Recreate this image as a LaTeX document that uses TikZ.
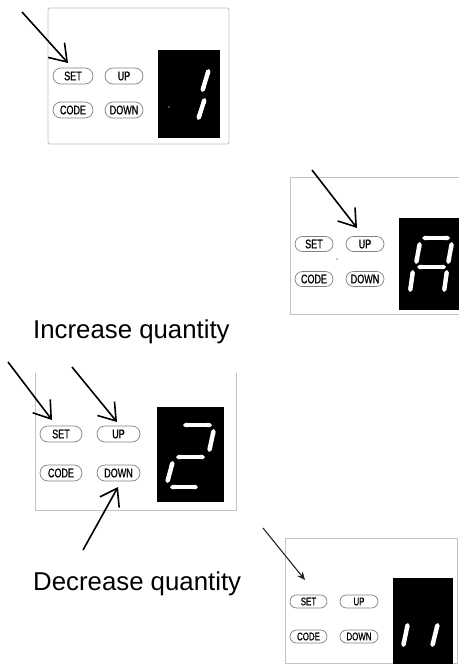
\documentclass[tikz,border=0pt]{standalone}
\usepackage{fontspec}
\setmainfont{Liberation Sans}
\newfontfamily\btnfont[FakeStretch=0.72,FakeBold=0.6]{Liberation Sans}
\usetikzlibrary{arrows.meta,shapes.misc}
\tikzset{
  panel/.style={draw=black!24, line width=0.8pt},
  btn/.style 2 args={shape=rounded rectangle, draw=black!50, line width=0.7pt, inner sep=0pt,
    minimum width=#1, minimum height=#2, font=\btnfont\fontsize{12.5}{12.5}\selectfont},
  disp/.style 2 args={fill=black, draw=none, inner sep=0pt, minimum width=#1, minimum height=#2},
  seg/.style={draw=white, line width=4.4pt, {Triangle Cap[]}-{Triangle Cap[]}},
  bigarrow/.style={draw=black, line width=1.6pt, -{Straight Barb[length=16pt, width=22pt, line width=1.6pt]}},
  smallarrow/.style={draw=black!85, line width=1.1pt, -{Stealth[length=8pt, width=7pt]}},
  caption/.style={anchor=base west, inner sep=0pt, font=\fontsize{25.8}{30}\selectfont},
  ledot/.style={fill=black!45, draw=none}
}
\begin{document}
\begin{tikzpicture}[x=1pt,y=-1pt]
\useasboundingbox (0,0) rectangle (459,664);

% ---------- Panel 1 ----------
\draw[panel, rounded corners=2pt] (48,8) rectangle (229,144);
\node[btn={40pt}{16pt}] (set1) at (73,76) {SET};
\node[btn={38pt}{16pt}] (up1) at (124,76) {UP};
\node[btn={40pt}{16pt}] (code1) at (73,110) {CODE};
\node[btn={38pt}{16pt}] (down1) at (124,110) {DOWN};
\node[disp={62pt}{88pt}] (disp1) at (189,94) {};
\draw[seg] (209,69) -- (202,92);
\draw[seg] (205,98) -- (198,120);
\fill[ledot] (169,107) circle (0.9);
\coordinate (a1s) at (22,12);
\coordinate (a1e) at (68,63);
\draw[bigarrow] (a1s) -- (a1e);

% ---------- Panel 2 ----------
\draw[panel] (459,177) -- (290,177) -- (290,314) -- (459,314);
\node[btn={38pt}{15pt}] (set2) at (314,244) {SET};
\node[btn={38pt}{15pt}] (up2) at (365,244) {UP};
\node[btn={38pt}{15pt}] (code2) at (314,279) {CODE};
\node[btn={38pt}{15pt}] (down2) at (365,279) {DOWN};
\node[disp={60pt}{92pt}] (disp2) at (429,264) {};
\draw[seg] (422,238) -- (450,238);
\draw[seg] (420,242) -- (416,264);
\draw[seg] (452,242) -- (448,264);
\draw[seg] (417,267) -- (446,267);
\draw[seg] (413,270) -- (410,292);
\draw[seg] (447,270) -- (444,292);
\fill[ledot] (337,259) circle (0.9);
\coordinate (a2s) at (312,170);
\coordinate (a2e) at (357,228);
\draw[bigarrow] (a2s) -- (a2e);

% ---------- Caption 1 ----------
\node[caption] (inc) at (33,338) {Increase quantity};

% ---------- Panel 3 ----------
\draw[panel] (35,373) -- (35,510) -- (236,510) -- (236,373);
\node[btn={42pt}{16pt}] (set3) at (61,434) {SET};
\node[btn={43pt}{16pt}] (up3) at (118.5,434) {UP};
\node[btn={42pt}{16pt}] (code3) at (61,473) {CODE};
\node[btn={43pt}{16pt}] (down3) at (118.5,473) {DOWN};
\node[disp={67pt}{95pt}] (disp3) at (190.5,454.5) {};
\draw[seg] (183,425) -- (212,425);
\draw[seg] (214,429) -- (209,452);
\draw[seg] (176,457) -- (205,457);
\draw[seg] (173,461) -- (167,483);
\draw[seg] (170,487) -- (198,487);
\coordinate (a3s) at (8,362);
\coordinate (a3e) at (52,420);
\draw[bigarrow] (a3s) -- (a3e);
\coordinate (a4s) at (72,367);
\coordinate (a4e) at (117,422);
\draw[bigarrow] (a4s) -- (a4e);
\coordinate (a5s) at (83,550);
\coordinate (a5e) at (118,487);
\draw[bigarrow] (a5s) -- (a5e);

% ---------- Caption 2 ----------
\node[caption] (dec) at (33,590) {Decrease quantity};

% ---------- Panel 4 ----------
\draw[panel] (285,538) rectangle (457,663);
\node[btn={37pt}{13pt}, font=\btnfont\fontsize{11}{11}\selectfont] (set4) at (308.5,601.5) {SET};
\node[btn={38pt}{13pt}, font=\btnfont\fontsize{11}{11}\selectfont] (up4) at (359,601.5) {UP};
\node[btn={37pt}{13pt}, font=\btnfont\fontsize{11}{11}\selectfont] (code4) at (308.5,636.5) {CODE};
\node[btn={38pt}{13pt}, font=\btnfont\fontsize{11}{11}\selectfont] (down4) at (359,636.5) {DOWN};
\node[disp={60pt}{86pt}] (disp4) at (423,621) {};
\draw[seg] (408,623) -- (403,647);
\draw[seg] (438,623) -- (432,647);
\coordinate (a6s) at (263,528);
\coordinate (a6e) at (305,580);
\draw[smallarrow] (a6s) -- (a6e);
\end{tikzpicture}
\end{document}
